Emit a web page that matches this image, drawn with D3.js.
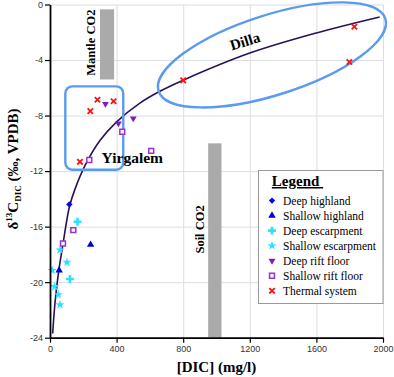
<!DOCTYPE html>
<html>
<head>
<meta charset="utf-8">
<script src="https://cdnjs.cloudflare.com/ajax/libs/d3/7.8.5/d3.min.js"></script>
<style>
    body { margin: 0; background: #fff; }
    svg text { font-family: "Liberation Serif", "Times New Roman", serif; }
    .axis .tick text { font-family: "Liberation Sans", Arial, sans-serif; font-size: 9px; fill: #333; }
    .axis path, .axis line { stroke: #000; }
    .grid line { stroke: #dcdce4; }
    .grid path { display: none; }
</style>
</head>
<body>
<svg id="chart" width="394" height="377"></svg>
<script>
// ---- data ----
var xTicks = [0, 400, 800, 1200, 1600, 2000];
var yTicks = [0, -4, -8, -12, -16, -20, -24];

// [DIC mg/l, d13C permil]
var deepHighland = [[116, -14.4]];
var shallowHighland = [[244, -17.3], [55, -19.15]];
var deepEscarpment = [[165, -15.65], [120, -19.77]];
var shallowEscarpment = [[60, -17.68], [102, -18.57], [13, -19.15], [28, -20.32], [50, -20.9], [60, -21.62]];
var deepRiftFloor = [[333, -7.16], [411, -8.56], [500, -8.2]];
var shallowRiftFloor = [[236, -11.2], [434, -9.17], [608, -10.54], [140, -16.25], [78, -17.22]];
var thermalSystem = [[180, -11.33], [242, -7.68], [285, -6.86], [382, -6.97], [800, -5.46], [1828, -1.6], [1798, -4.14]];

// trend curve, points
var trendLine = [[16, -23.7], [30, -21.5], [50, -19.4], [80, -17.1], [116, -14.6], [150, -13.3], [210, -11.6],
    [300, -9.8], [400, -8.45], [540, -7.1], [660, -6.25], [800, -5.45], [1200, -3.5], [1600, -2.05], [1980, -0.9]];

// CO2 source bands: [x0, x1, y0, y1]
var mantleCO2 = [300, 385, -0.35, -5.4];
var soilCO2 = [950, 1030, -10, -24];

var legendTitle = 'Legend';
var seriesNames = ['Deep highland', 'Shallow highland', 'Deep escarpment', 'Shallow escarpment',
    'Deep rift floor', 'Shallow rift floor', 'Thermal system'];

// ---- layout ----
var width = 394, height = 377;
var margins = { top: 4.5, right: 11, bottom: 39.3, left: 50 };
var svg = d3.select('#chart');
var serif = '"Liberation Serif", "Times New Roman", serif';

var x = d3.scaleLinear().domain([0, 2000]).range([margins.left, width - margins.right]);
var y = d3.scaleLinear().domain([-24, 0]).range([height - margins.bottom, margins.top]);

var cyan = '#2ae2ff';
var series = [
    { name: seriesNames[0], data: deepHighland, type: 'diamond', color: '#0000ff' },
    { name: seriesNames[1], data: shallowHighland, type: 'triangle', color: '#0000d8' },
    { name: seriesNames[2], data: deepEscarpment, type: 'plus', color: cyan },
    { name: seriesNames[3], data: shallowEscarpment, type: 'star', color: cyan },
    { name: seriesNames[4], data: deepRiftFloor, type: 'triDown', color: '#7a1cc0' },
    { name: seriesNames[5], data: shallowRiftFloor, type: 'square', color: '#9b30d0' },
    { name: seriesNames[6], data: thermalSystem, type: 'x', color: '#ff1010' }
];

// grid
svg.append('g').attr('class', 'grid')
    .attr('transform', 'translate(0,' + y.range()[0] + ')')
    .call(d3.axisBottom(x).tickValues(xTicks.slice(1)).tickSize(-(y.range()[0] - y.range()[1])).tickFormat(''));
svg.append('g').attr('class', 'grid')
    .attr('transform', 'translate(' + x.range()[0] + ',0)')
    .call(d3.axisLeft(y).tickValues(yTicks.slice(0, -1)).tickSize(-(x.range()[1] - x.range()[0])).tickFormat(''));

// CO2 bands
function band(b) {
    svg.append('rect')
        .attr('x', x(b[0])).attr('width', x(b[1]) - x(b[0]))
        .attr('y', y(b[2])).attr('height', y(b[3]) - y(b[2]))
        .attr('fill', '#aaaaaa');
}
band(mantleCO2);
band(soilCO2);

function vLabel(txt, dx, dy) {
    svg.append('text')
        .attr('transform', 'translate(' + x(dx) + ',' + y(dy) + ') rotate(-90)')
        .attr('text-anchor', 'middle')
        .attr('font-weight', 'bold').attr('font-size', '12.5px')
        .text(txt);
}
vLabel('Mantle CO2', 270, -2.75);
vLabel('Soil CO2', 922, -16.2);

// trend curve
svg.append('path')
    .datum(trendLine)
    .attr('fill', 'none')
    .attr('stroke', '#28105a')
    .attr('stroke-width', 1.6)
    .attr('d', d3.line().x(function (d) { return x(d[0]); }).y(function (d) { return y(d[1]); }).curve(d3.curveCatmullRom));

// group outlines
var outline = '#5b9bef';
svg.append('rect')
    .attr('x', x(92)).attr('y', y(-5.9))
    .attr('width', x(440) - x(92)).attr('height', y(-11.9) - y(-5.9))
    .attr('rx', 7).attr('ry', 7)
    .attr('fill', 'none').attr('stroke', outline).attr('stroke-width', 2.4);
svg.append('ellipse')
    .attr('transform', 'translate(' + x(1333) + ',' + y(-3.63) + ') rotate(-17.7)')
    .attr('rx', 119).attr('ry', 40)
    .attr('fill', 'none').attr('stroke', outline).attr('stroke-width', 2.4);

svg.append('text')
    .attr('transform', 'translate(' + x(1171) + ',' + y(-2.63) + ') rotate(-17)')
    .attr('text-anchor', 'middle').attr('dy', '0.35em')
    .attr('font-weight', 'bold').attr('font-size', '15px')
    .text('Dilla');
svg.append('text')
    .attr('x', x(310)).attr('y', y(-11.43))
    .attr('font-weight', 'bold').attr('font-size', '15.5px')
    .text('Yirgalem');

// markers
function drawMarker(g, s) {
    var p = g.append('path');
    if (s.type === 'diamond') {
        p.attr('d', d3.symbol(d3.symbolSquare, 20)()).attr('transform', 'rotate(45)').attr('fill', s.color);
    } else if (s.type === 'triangle') {
        p.attr('d', d3.symbol(d3.symbolTriangle, 24)()).attr('fill', s.color);
    } else if (s.type === 'plus') {
        p.attr('d', d3.symbol(d3.symbolCross, 34)()).attr('fill', s.color);
    } else if (s.type === 'star') {
        p.attr('d', d3.symbol(d3.symbolStar, 26)()).attr('fill', s.color);
    } else if (s.type === 'triDown') {
        p.attr('d', d3.symbol(d3.symbolTriangle, 20)()).attr('transform', 'rotate(180)').attr('fill', s.color);
    } else if (s.type === 'square') {
        p.attr('d', d3.symbol(d3.symbolSquare, 24)()).attr('fill', '#fff')
            .attr('stroke', s.color).attr('stroke-width', 1.5);
    } else {
        p.attr('d', 'M-2.7,-2.7L2.7,2.7M-2.7,2.7L2.7,-2.7').attr('fill', 'none')
            .attr('stroke', s.color).attr('stroke-width', 1.8);
    }
}

series.forEach(function (s) {
    svg.append('g').selectAll('g')
        .data(s.data)
        .enter().append('g')
        .attr('transform', function (d) { return 'translate(' + x(d[0]) + ',' + y(d[1]) + ')'; })
        .each(function () { drawMarker(d3.select(this), s); });
});

// axes (plain hyphen minus, no thousands separator)
var plain = function (d) { return String(d); };
svg.append('g').attr('class', 'axis')
    .attr('transform', 'translate(0,' + y.range()[0] + ')')
    .call(d3.axisBottom(x).tickValues(xTicks).tickFormat(plain).tickSize(5).tickSizeOuter(0).tickPadding(3));
svg.append('g').attr('class', 'axis')
    .attr('transform', 'translate(' + x.range()[0] + ',0)')
    .call(d3.axisLeft(y).tickValues(yTicks).tickFormat(plain).tickSize(5).tickSizeOuter(0).tickPadding(2));
svg.selectAll('.axis path').attr('stroke-width', 1.8);
svg.selectAll('.axis line').attr('stroke-width', 1.2);

svg.append('text')
    .attr('x', (x.range()[0] + x.range()[1]) / 2).attr('y', 372)
    .attr('text-anchor', 'middle')
    .attr('font-weight', 'bold').attr('font-size', '15px')
    .text('[DIC] (mg/l)');

var yLabel = svg.append('text')
    .attr('transform', 'translate(18,169) rotate(-90)')
    .attr('text-anchor', 'middle')
    .attr('font-weight', 'bold').attr('font-size', '15px');
yLabel.append('tspan').text('δ');
yLabel.append('tspan').attr('font-size', '9px').attr('dy', -6).text('13');
yLabel.append('tspan').attr('dy', 6).text('C');
yLabel.append('tspan').attr('font-size', '9px').attr('dy', 3).text('DIC');
yLabel.append('tspan').attr('dy', -3).text(' (‰, VPDB)');

// legend
var legend = svg.append('g');
legend.append('rect')
    .attr('x', 258.5).attr('y', 170.5).attr('width', 124.5).attr('height', 133)
    .attr('fill', '#fff').attr('stroke', '#9a9a9a').attr('stroke-width', 1);
legend.append('text')
    .attr('x', 297.5).attr('y', 186)
    .attr('text-anchor', 'middle')
    .attr('font-family', serif)
    .attr('font-weight', 'bold').attr('font-size', '15px')
    .attr('text-decoration', 'underline')
    .text(legendTitle + '\u00a0');

var rowY = d3.scalePoint().domain(seriesNames).range([200.6, 290.8]);
series.forEach(function (s) {
    var row = legend.append('g').attr('transform', 'translate(272,' + rowY(s.name) + ')');
    drawMarker(row, s);
    row.append('text')
        .attr('x', 11).attr('dy', '0.35em')
        .attr('font-family', serif)
        .attr('font-size', '11.5px')
        .text(s.name);
});
</script>
</body>
</html>
